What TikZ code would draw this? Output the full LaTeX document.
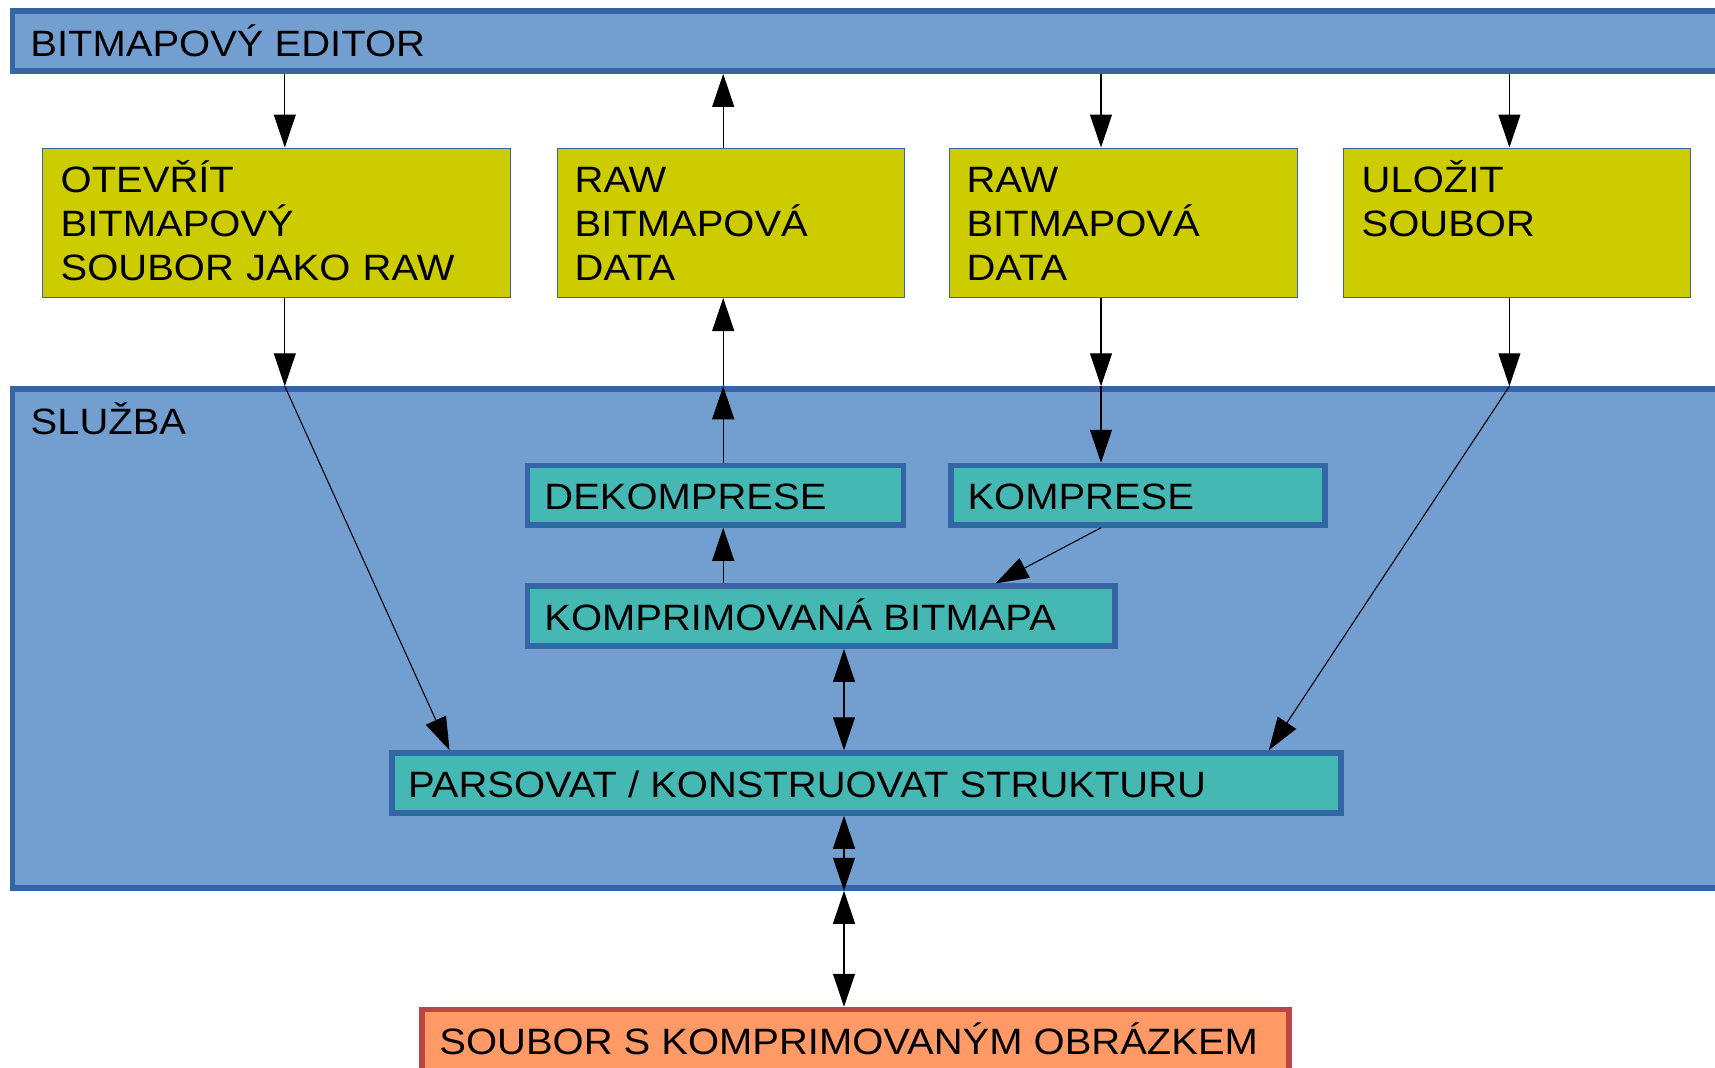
\documentclass[tikz,border=0pt]{standalone}
\usepackage{fontspec}
\setmainfont{Liberation Sans}[FakeStretch=1.09]
\usetikzlibrary{arrows.meta,calc}
\definecolor{bluefill}{HTML}{729FCF}
\definecolor{blueline}{HTML}{3465A4}
\definecolor{yellowfill}{HTML}{CCCC00}
\definecolor{tealfill}{HTML}{46B8B4}
\definecolor{orangefill}{HTML}{FF9966}
\definecolor{redline}{HTML}{B84747}
\begin{document}
\begin{tikzpicture}[x=1bp,y=-1bp,
  frame/.style={draw=blueline, fill=bluefill, line width=5.5bp, rectangle, inner sep=0pt},
  yellowbox/.style={draw=blueline, fill=yellowfill, line width=1bp, rectangle, inner sep=0pt},
  tealbox/.style={draw=blueline, fill=tealfill, line width=5.5bp, rectangle, inner sep=0pt},
  filebox/.style={draw=redline, fill=orangefill, line width=5.5bp, rectangle, inner sep=0pt},
  txt/.style={anchor=base west, inner sep=0pt, font=\fontsize{36.8}{44.3}\selectfont},
  mtxt/.style={txt, text width=460bp, align=left},
  conn/.style={line width=1.1bp, -{Triangle[length=33bp,width=22bp]}},
  biconn/.style={line width=1.1bp, {Triangle[length=33bp,width=22bp]}-{Triangle[length=33bp,width=22bp]}},
]
\useasboundingbox (0,0) rectangle (1715,1067);
\clip (0,0) rectangle (1715,1067);
\fill[white] (0,0) rectangle (1715,1067);

% frames
\node[frame, minimum width=1747.5bp, minimum height=60bp] (edit) at (886.25,41.2) {};
\node[frame, minimum width=1747.5bp, minimum height=499bp] (slu) at (886.25,638.5) {};

% yellow boxes
\node[yellowbox, minimum width=467.5bp, minimum height=149.5bp] (y1) at (276.75,222.75) {};
\node[yellowbox, minimum width=347.5bp, minimum height=149.5bp] (y2) at (730.75,222.75) {};
\node[yellowbox, minimum width=347.5bp, minimum height=149.5bp] (y3) at (1123.25,222.75) {};
\node[yellowbox, minimum width=347bp, minimum height=149.5bp] (y4) at (1517,222.75) {};

% inner boxes
\node[tealbox, minimum width=376bp, minimum height=59.5bp] (dek) at (715.5,495.25) {};
\node[tealbox, minimum width=374.4bp, minimum height=59.5bp] (kom) at (1138,495.25) {};
\node[tealbox, minimum width=587.7bp, minimum height=60bp] (kb) at (821.35,616.15) {};
\node[tealbox, minimum width=949bp, minimum height=60bp] (par) at (866.5,783) {};
\node[filebox, minimum width=867.4bp, minimum height=100bp] (soub) at (855.5,1059.5) {};

% columns
\coordinate (cA) at (284.8,0);
\coordinate (cB) at (723.2,0);
\coordinate (cC) at (1101,0);
\coordinate (cD) at (1509.4,0);
\coordinate (cE) at (844,0);
\coordinate (cF) at (995.5,0);
\coordinate (cG) at (449.5,0);
\coordinate (cH) at (1268.8,0);

% connectors
\draw[conn] (cA |- edit.south) -- (cA |- y1.north);
\draw[conn] (cB |- y2.north) -- (cB |- edit.south);
\draw[conn] (cC |- edit.south) -- (cC |- y3.north);
\draw[conn] (cD |- edit.south) -- (cD |- y4.north);

\draw[conn] (cA |- y1.south) -- (cA |- slu.north);
\draw[conn] (cA |- slu.north) -- (cG |- par.north);
\draw[conn] (cB |- slu.north) -- (cB |- y2.south);
\draw[conn] (cB |- dek.north) -- (cB |- slu.north);
\draw[conn] (cC |- y3.south) -- (cC |- slu.north);
\draw[conn] (cC |- slu.north) -- (cC |- kom.north);
\draw[conn] (cD |- y4.south) -- (cD |- slu.north);
\draw[conn] (cD |- slu.north) -- (cH |- par.north);

\draw[conn] (cC |- kom.south) -- (cF |- kb.north);
\draw[conn] (cB |- kb.north) -- (cB |- dek.south);
\draw[biconn] (cE |- kb.south) -- (cE |- par.north);
\draw[biconn] (cE |- par.south) -- (cE |- slu.south);
\draw[biconn] (cE |- slu.south) -- (cE |- soub.north);

% texts
\node[txt] (t-edit) at (30.2,56.8) {BITMAPOVÝ EDITOR};
\node[txt] (t-slu) at (30.5,434) {SLUŽBA};
\node[mtxt] (t-y1) at (60.5,192.6) {OTEVŘÍT\\BITMAPOVÝ\\SOUBOR JAKO RAW};
\node[mtxt] (t-y2) at (574.5,192.6) {RAW\\BITMAPOVÁ\\DATA};
\node[mtxt] (t-y3) at (966.3,192.6) {RAW\\BITMAPOVÁ\\DATA};
\node[mtxt] (t-y4) at (1361.5,192.6) {ULOŽIT\\SOUBOR};
\node[txt] (t-dek) at (544.2,509.3) {DEKOMPRESE};
\node[txt] (t-kom) at (967.3,509.3) {KOMPRESE};
\node[txt] (t-kb) at (544.2,630) {KOMPRIMOVANÁ BITMAPA};
\node[txt] (t-par) at (408,797.7) {PARSOVAT / KONSTRUOVAT STRUKTURU};
\node[txt] (t-soub) at (439.2,1054) {SOUBOR S KOMPRIMOVANÝM OBRÁZKEM};
\end{tikzpicture}
\end{document}
